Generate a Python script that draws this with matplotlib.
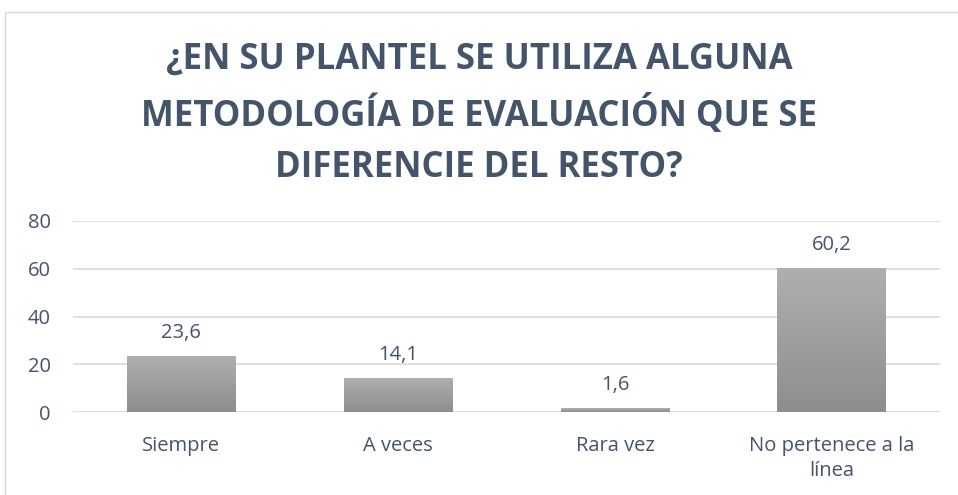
import numpy as np
import matplotlib.pyplot as plt
from matplotlib.patches import Rectangle

categorias = ['Siempre', 'A veces', 'Rara vez', 'No pertenece a la\nlínea']
valores = [23.6, 14.1, 1.6, 60.2]
etiquetas = ['23,6', '14,1', '1,6', '60,2']
titulo = '¿EN SU PLANTEL SE UTILIZA ALGUNA\nMETODOLOGÍA DE EVALUACIÓN QUE SE\nDIFERENCIE DEL RESTO?'

texto = '#44546A'
plt.rcParams['font.family'] = ['Open Sans', 'DejaVu Sans']

fig = plt.figure(figsize=(9.58, 4.95), dpi=100)
# marco del gráfico
fig.patches.append(Rectangle((5 / 958, -0.1), 1.2, 1 - 12 / 495 + 0.1, transform=fig.transFigure,
                             fill=False, edgecolor='#D9D9D9', linewidth=1))

ax = fig.add_axes([73 / 958, 1 - 412 / 495, (940 - 73) / 958, (412 - 221) / 495])
x = np.arange(len(categorias))
barras = ax.bar(x, valores, width=0.5, color='none', zorder=3)

# degradado gris en cada barra
grad = np.linspace(0, 1, 256).reshape(-1, 1)
cm = plt.matplotlib.colors.LinearSegmentedColormap.from_list('g', ['#8E8E8E', '#AFAFAF'])
for b in barras:
    x0, w, h = b.get_x(), b.get_width(), b.get_height()
    im = ax.imshow(grad, extent=[x0, x0 + w, 0, h], origin='lower', aspect='auto', cmap=cm, zorder=3)
    im.set_clip_path(b)

for xi, v, t in zip(x, valores, etiquetas):
    ax.annotate(t, (xi, v), xytext=(0, 13), textcoords='offset points', ha='center', va='baseline',
                fontsize=14.5, color=texto)

ax.set_xlim(-0.5, len(categorias) - 0.5)
ax.set_ylim(0, 80)
ax.set_yticks(np.arange(0, 81, 20))
ax.set_xticks(x)
ax.set_xticklabels(categorias, linespacing=1.35)
ax.tick_params(axis='y', length=0, pad=16, labelsize=14.5, labelcolor=texto)
ax.tick_params(axis='x', length=0, pad=17, labelsize=14.5, labelcolor=texto)
ax.grid(axis='y', color='#D9D9D9', linewidth=1.2, zorder=0)
for s in ax.spines.values():
    s.set_visible(False)

fig.text(0.5, 1 - 114 / 495, titulo, ha='center', va='center', fontsize=25, fontweight='bold',
         color=texto, linespacing=1.56)

fig.savefig('out.png', dpi=100)
